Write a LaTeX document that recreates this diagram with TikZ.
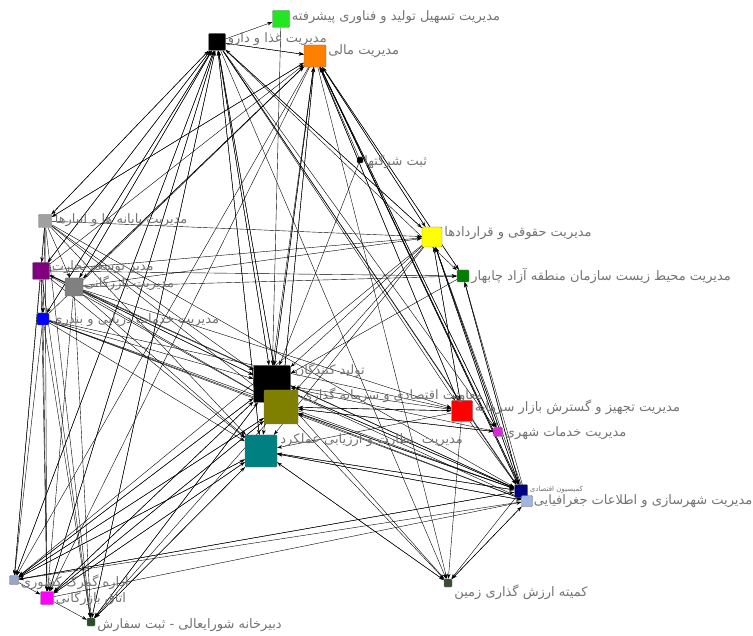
\documentclass[tikz,border=0pt]{standalone}
\usepackage{fontspec}
\newfontfamily\farsi[Script=Arabic]{DejaVu Sans}
\TeXXeTstate=1
\usetikzlibrary{arrows.meta, positioning}
\pgfdeclarelayer{edges}
\pgfsetlayers{edges,main}
\definecolor{labgray}{RGB}{115,115,115}
\definecolor{cfanavari}{RGB}{34,230,34}
\definecolor{cmali}{RGB}{255,128,0}
\definecolor{cpayane}{RGB}{160,160,160}
\definecolor{choghoghi}{RGB}{255,255,0}
\definecolor{cmohit}{RGB}{0,128,0}
\definecolor{ctosee}{RGB}{128,0,128}
\definecolor{cbazargani}{RGB}{128,128,128}
\definecolor{cdaryayi}{RGB}{0,0,255}
\definecolor{cmoavenat}{RGB}{128,128,0}
\definecolor{cnezarat}{RGB}{0,128,128}
\definecolor{csarmaye}{RGB}{255,0,0}
\definecolor{cshahri}{RGB}{220,40,220}
\definecolor{ckomision}{RGB}{0,0,128}
\definecolor{cshahrsazi}{RGB}{160,180,225}
\definecolor{czamin}{RGB}{60,75,50}
\definecolor{cgomrok}{RGB}{150,165,200}
\definecolor{cotagh}{RGB}{255,0,255}
\definecolor{cdabir}{RGB}{40,80,40}

\begin{document}
\begin{tikzpicture}[
            x = 1pt, y = -1pt, % pixel grid, y downwards
            > = {Stealth[length=5pt, width=3.5pt]}, % arrow head style
            shorten > = 0pt,
            line width = 0.4pt
        ]

        \tikzstyle{org}=[
            rectangle,
            draw = black!55,
            rounded corners = 1pt,
            inner sep = 0pt
        ]
        \tikzstyle{lab}=[
            inner sep = 0pt,
            text = labgray,
            font = \farsi\fontsize{13}{15}\selectfont
        ]

	\useasboundingbox (0,0) rectangle (753,636);

	% organisations
	\node[org, fill=cfanavari, minimum size=17] (fanavari) at (281,19) {};
	\node[org, fill=black, minimum size=17] (food) at (217,42) {};
	\node[org, fill=cmali, minimum size=22] (mali) at (315,56) {};
	\node[org, fill=black, minimum size=6] (sabt) at (360,160) {};
	\node[org, fill=cpayane, minimum size=13] (payane) at (45,221) {};
	\node[org, fill=choghoghi, minimum size=20] (hoghoghi) at (432,237) {};
	\node[org, fill=cmohit, minimum size=12] (mohit) at (463,276) {};
	\node[org, fill=ctosee, minimum size=17] (tosee) at (41,271) {};
	\node[org, fill=cbazargani, minimum size=18] (bazargani) at (74,287) {};
	\node[org, fill=cdaryayi, minimum size=12] (daryayi) at (43,319) {};
	\node[org, fill=black, minimum size=37] (tolid) at (272,384) {};
	\node[org, fill=cmoavenat, minimum size=34] (moavenat) at (281,407) {};
	\node[org, fill=cnezarat, minimum size=32] (nezarat) at (261,451) {};
	\node[org, fill=csarmaye, minimum size=21] (sarmaye) at (462,411) {};
	\node[org, fill=cshahri, minimum size=9] (shahri) at (498,432) {};
	\node[org, fill=ckomision, minimum size=13] (komision) at (521,491) {};
	\node[org, fill=cshahrsazi, minimum size=11] (shahrsazi) at (527,501) {};
	\node[org, fill=czamin, minimum size=8] (zamin) at (448,583) {};
	\node[org, fill=cgomrok, minimum size=9] (gomrok) at (14,580) {};
	\node[org, fill=cotagh, minimum size=13] (otagh) at (47,598) {};
	\node[org, fill=cdabir, minimum size=8] (dabir) at (91,622) {};

	% labels
	\node[lab, right=2pt of fanavari, yshift=2pt] (lfanavari) {\beginR مدیریت تسهیل تولید و فناوری پیشرفته\endR};
	\node[lab, right=2pt of food, yshift=3pt] (lfood) {\beginR مدیریت غذا و دارو\endR};
	\node[lab, right=2pt of mali, yshift=5pt] (lmali) {\beginR مدیریت مالی\endR};
	\node[lab, right=1pt of sabt, yshift=-2pt] (lsabt) {\beginR ثبت شرکتها\endR};
	\node[lab, right=3pt of payane, yshift=1pt] (lpayane) {\beginR مدیریت پایانه ها و انبارها\endR};
	\node[lab, right=2pt of hoghoghi, yshift=4pt] (lhoghoghi) {\beginR مدیریت حقوقی و قراردادها\endR};
	\node[lab, right=2pt of mohit] (lmohit) {\beginR مدیریت محیط زیست سازمان منطقه آزاد چابهار\endR};
	\node[lab, right=2pt of tosee, yshift=4pt] (ltosee) {\beginR مدیر توسعه تجارت\endR};
	\node[lab, right=1pt of bazargani, yshift=4pt] (lbazargani) {\beginR مدیریت بازرگانی\endR};
	\node[lab, right=3pt of daryayi, yshift=-1pt] (ldaryayi) {\beginR مدیریت خدمات دریایی و بندری\endR};
	\node[lab, right=4pt of tolid, yshift=14pt] (ltolid) {\beginR تولید کنندگان\endR};
	\node[lab, right=4pt of moavenat, yshift=12pt] (lmoavenat) {\beginR معاونت اقتصادی و سرمایه گذاری\endR};
	\node[lab, right=3pt of nezarat, yshift=11pt] (lnezarat) {\beginR مدیریت~~نظارت و ارزیابی عملکرد\endR};
	\node[lab, right=2pt of sarmaye, yshift=4pt] (lsarmaye) {\beginR مدیریت تجهیز و گسترش بازار سرمایه\endR};
	\node[lab, right=2pt of shahri, yshift=-1pt] (lshahri) {\beginR مدیریت خدمات شهری\endR};
	\node[lab, right=2pt of komision, yshift=1pt, font=\farsi\fontsize{7}{8}\selectfont] (lkomision) {\beginR کمیسیون اقتصادی\endR};
	\node[lab, right=1pt of shahrsazi] (lshahrsazi) {\beginR مدیریت شهرسازی و اطلاعات جغرافیایی\endR};
	\node[lab, right=2pt of zamin, yshift=-9pt] (lzamin) {\beginR کمیته ارزش گذاری زمین\endR};
	\node[lab, right=2pt of gomrok, yshift=-2pt] (lgomrok) {\beginR اداره گمرک کشوری\endR};
	\node[lab, right=2pt of otagh] (lotagh) {\beginR اتاق بازرگانی\endR};
	\node[lab, right=2pt of dabir, yshift=-3pt] (ldabir) {\beginR دبیرخانه شورایعالی - ثبت سفارش\endR};

	% ties
	\begin{pgfonlayer}{edges}
	\foreach \s in {fanavari,food,mali,sabt,payane,tosee,bazargani,daryayi,hoghoghi,mohit,sarmaye,shahri,komision,shahrsazi,zamin,gomrok,otagh,dabir}
		\path[->] (\s) edge (tolid);
	\foreach \s in {food,mali,payane,tosee,bazargani,daryayi,hoghoghi,sarmaye,shahri,komision,shahrsazi,gomrok,otagh}
		\path[->] (\s) edge (moavenat);
	\foreach \s in {food,mali,tosee,bazargani,daryayi,sarmaye,komision,shahrsazi,zamin,gomrok,otagh,dabir,hoghoghi,payane}
		\path[->] (\s) edge (nezarat);
	\foreach \s in {payane,tosee,bazargani,daryayi,tolid,hoghoghi,mohit,sarmaye,shahri,komision,shahrsazi,sabt,food,moavenat}
		\path[->] (\s) edge (mali);
	\foreach \s in {payane,tosee,bazargani,daryayi,tolid,moavenat,gomrok,otagh,dabir,hoghoghi,nezarat}
		\path[->] (\s) edge (food);
	\foreach \s in {tosee,bazargani,food,mali,sarmaye,komision,shahrsazi,shahri,payane}
		\path[->] (\s) edge (hoghoghi);
	\foreach \s in {tosee,mali,food,komision,shahrsazi,bazargani}
		\path[->] (\s) edge (mohit);
	\foreach \s in {tolid,moavenat,nezarat,daryayi,sarmaye,mali,hoghoghi,mohit,bazargani,tosee,payane,food,gomrok}
		\path[->] (\s) edge (komision);
	\foreach \s in {zamin,nezarat,mali,food,daryayi,otagh}
		\path[->] (\s) edge (shahrsazi);
	\foreach \s in {mali,food,moavenat,hoghoghi,bazargani,daryayi}
		\path[->] (\s) edge (sarmaye);
	\foreach \s in {food,mali,moavenat,hoghoghi}
		\path[->] (\s) edge (shahri);
	\foreach \s in {nezarat,komision,sarmaye,moavenat,food,mali,shahrsazi}
		\path[->] (\s) edge (zamin);
	\foreach \s in {tolid,moavenat,nezarat,komision,daryayi,payane,tosee,food,mali,hoghoghi,shahrsazi}
		\path[->] (\s) edge (gomrok);
	\foreach \s in {tolid,moavenat,nezarat,gomrok,daryayi,payane,tosee,bazargani,food,mali}
		\path[->] (\s) edge (otagh);
	\foreach \s in {nezarat,tolid,moavenat,otagh,bazargani,tosee,daryayi,payane,food}
		\path[->] (\s) edge (dabir);
	\path[->] (payane) edge (tosee);
	\path[->] (payane) edge (bazargani);
	\path[->] (bazargani) edge (tosee);
	\path[->] (tosee) edge (daryayi);
	\path[->] (payane) edge (daryayi);
	\path[->] (food) edge (payane);
	\path[->] (food) edge (tosee);
	\path[->] (food) edge (bazargani);
	\path[->] (food) edge (daryayi);
	\path[->] (mali) edge (payane);
	\path[->] (mali) edge (bazargani);
	\path[->] (food) edge (fanavari);
	\path[->] (food) edge (mali);
	\end{pgfonlayer}

    \end{tikzpicture}
\end{document}
